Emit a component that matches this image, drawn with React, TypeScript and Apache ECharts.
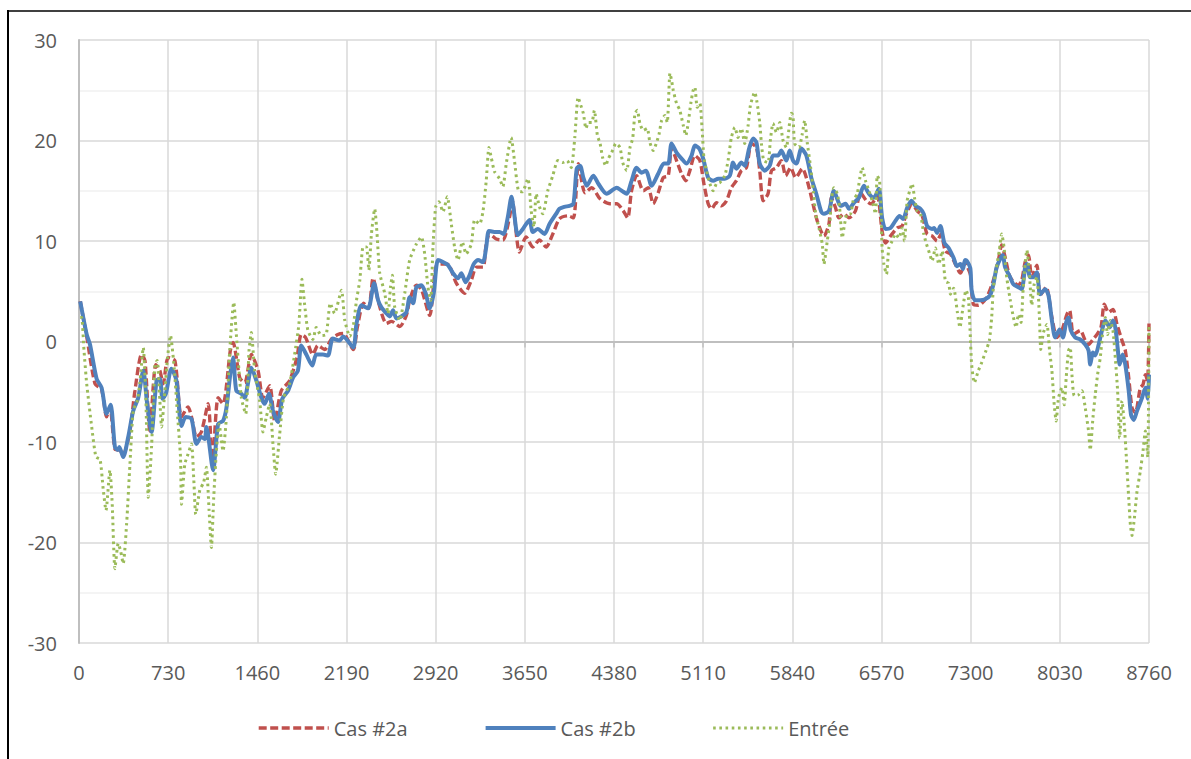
import React, { useEffect, useRef } from "react";
import * as echarts from "echarts";

const seriesNames = ["Cas #2a", "Cas #2b", "Entrée"];

const cas2a: [number, number][] = [
  [10, 4.0], [63, 0.5], [131, -4.2], [185, -4.8], [226, -7.5], [253, -6.5], [294, -10.7], [330, -10.8],
  [362, -11.2], [417, -8.9], [458, -4.9], [512, -1.3], [540, -1.9], [580, -8.9], [629, -2.3], [662, -2.9],
  [689, -4.2], [730, -1.6], [785, -1.9], [839, -7.5], [893, -6.5], [921, -7.5], [962, -9.5], [1002, -9.0],
  [1057, -6.2], [1092, -12.2], [1139, -5.6], [1179, -6.2], [1239, -0.9], [1261, -0.1], [1316, -3.6],
  [1357, -4.1], [1411, -1.3], [1466, -2.9], [1506, -5.6], [1561, -4.4], [1602, -7.9], [1656, -4.9],
  [1724, -3.9], [1784, -1.6], [1820, 0.7], [1855, 0.4], [1915, -1.3], [1956, -0.4], [2011, -0.8],
  [2065, 0.2], [2119, 0.7], [2163, 0.8], [2245, -0.8], [2280, 1.5], [2330, 3.8], [2370, 3.3], [2408, 6.3],
  [2450, 4.0], [2517, 1.8], [2560, 2.0], [2626, 1.5], [2680, 2.6], [2707, 4.1], [2762, 5.6], [2803, 5.2],
  [2871, 2.6], [2934, 7.7], [3015, 7.7], [3089, 5.8], [3157, 4.8], [3212, 6.1], [3253, 7.4], [3307, 7.4],
  [3334, 9.7], [3361, 10.7], [3416, 10.2], [3470, 10.1], [3525, 12.4], [3547, 14.0], [3606, 8.9],
  [3661, 10.4], [3715, 9.4], [3770, 10.1], [3824, 9.4], [3879, 10.7], [3933, 12.2], [4001, 12.5],
  [4048, 12.3], [4089, 17.7], [4143, 14.8], [4198, 15.3], [4266, 14.2], [4347, 13.7], [4402, 13.7],
  [4456, 13.0], [4492, 12.3], [4524, 15.0], [4565, 16.5], [4620, 15.0], [4660, 15.3], [4701, 13.7],
  [4742, 14.8], [4783, 16.3], [4824, 16.5], [4851, 19.3], [4892, 18.0], [4933, 16.7], [4968, 16.0],
  [5001, 17.0], [5042, 18.5], [5083, 18.0], [5116, 15.7], [5151, 13.7], [5178, 13.2], [5219, 13.8],
  [5260, 13.5], [5301, 14.0], [5341, 15.3], [5382, 16.0], [5423, 17.0], [5464, 17.3], [5505, 19.7],
  [5546, 19.3], [5573, 17.0], [5601, 14.0], [5641, 14.7], [5669, 17.0], [5710, 17.3], [5750, 18.0],
  [5786, 16.5], [5826, 17.3], [5867, 16.3], [5922, 17.2], [5962, 16.0], [6003, 14.0], [6044, 12.0],
  [6099, 10.5], [6140, 11.7], [6159, 14.3], [6194, 13.3], [6221, 12.3], [6262, 12.7], [6303, 12.3],
  [6357, 13.0], [6398, 14.8], [6447, 14.0], [6485, 13.7], [6535, 14.5], [6575, 11.0], [6603, 9.8],
  [6644, 10.5], [6698, 11.3], [6739, 11.5], [6774, 12.7], [6821, 13.7], [6862, 13.0], [6903, 12.5],
  [6943, 10.7], [6984, 10.5], [7025, 10.0], [7057, 10.7], [7093, 9.0], [7134, 8.7], [7175, 7.7],
  [7216, 6.8], [7254, 7.9], [7270, 7.5], [7297, 6.7], [7322, 3.7], [7363, 3.6], [7431, 4.4], [7486, 6.1],
  [7527, 8.1], [7554, 9.6], [7582, 8.4], [7623, 6.4], [7691, 5.6], [7718, 6.1], [7746, 7.9], [7773, 8.6],
  [7800, 6.4], [7842, 7.6], [7869, 4.6], [7918, 5.4], [7965, 2.4], [8006, 0.4], [8047, 1.1], [8088, 2.7],
  [8110, 3.1], [8142, 0.7], [8197, 1.1], [8238, 0.1], [8265, -0.3], [8301, 0.2], [8334, 0.7], [8367, 1.4],
  [8394, 3.7], [8429, 2.9], [8465, 3.2], [8498, 1.7], [8539, 0.1], [8566, -0.9], [8594, -3.6], [8621, -6.6],
  [8648, -7.1], [8689, -4.6], [8711, -4.3], [8730, -3.3], [8748, -3.9], [8760, 1.8],
];

const cas2b: [number, number][] = [
  [10, 4.0], [63, 0.7], [90, -0.3], [144, -3.7], [185, -4.6], [226, -7.2], [259, -6.3], [294, -10.5],
  [318, -10.8], [330, -10.5], [362, -11.5], [403, -9.5], [444, -6.9], [485, -5.6], [526, -2.9], [558, -6.2],
  [594, -9.0], [635, -3.9], [662, -3.7], [684, -5.7], [711, -5.2], [757, -2.7], [798, -3.9], [839, -8.4],
  [874, -7.5], [921, -7.7], [962, -10.2], [1002, -9.5], [1030, -9.7], [1043, -8.5], [1098, -12.8],
  [1139, -8.2], [1179, -7.9], [1207, -6.6], [1239, -3.2], [1261, -1.6], [1288, -4.9], [1329, -5.2],
  [1357, -5.6], [1384, -4.1], [1411, -2.6], [1452, -3.9], [1493, -5.6], [1520, -6.2], [1555, -5.2],
  [1588, -6.9], [1629, -8.0], [1664, -5.7], [1711, -4.9], [1752, -3.6], [1792, -2.9], [1820, -0.4],
  [1861, -1.3], [1910, -2.4], [1942, -1.3], [1997, -1.3], [2038, -1.4], [2078, 0.3], [2133, 0.1],
  [2163, 0.5], [2245, -0.6], [2272, 1.8], [2313, 3.6], [2367, 3.3], [2416, 5.8], [2449, 4.1], [2476, 3.4],
  [2517, 2.8], [2544, 2.5], [2571, 3.1], [2599, 2.3], [2639, 2.5], [2680, 2.9], [2707, 4.4], [2735, 3.8],
  [2762, 5.4], [2803, 5.6], [2838, 4.8], [2871, 3.3], [2904, 4.8], [2939, 8.1], [2980, 7.9], [3021, 7.6],
  [3062, 6.8], [3103, 6.3], [3130, 6.8], [3165, 5.9], [3198, 6.6], [3231, 7.7], [3266, 8.1], [3307, 7.9],
  [3334, 9.4], [3356, 11.0], [3402, 10.9], [3443, 10.9], [3476, 10.7], [3511, 12.4], [3541, 14.4],
  [3560, 13.0], [3593, 10.6], [3634, 11.2], [3688, 12.1], [3715, 10.9], [3756, 11.2], [3811, 10.7],
  [3852, 11.7], [3906, 12.7], [3933, 13.2], [3974, 13.4], [4015, 13.5], [4048, 13.7], [4075, 17.2],
  [4102, 17.5], [4129, 16.3], [4157, 15.5], [4211, 16.5], [4252, 15.7], [4320, 14.7], [4402, 15.3],
  [4443, 15.0], [4484, 14.7], [4524, 16.0], [4565, 17.3], [4606, 16.8], [4641, 17.0], [4688, 15.5],
  [4742, 16.7], [4789, 17.7], [4824, 17.7], [4851, 19.7], [4892, 18.8], [4933, 18.2], [4974, 17.7],
  [5015, 18.5], [5042, 19.5], [5077, 19.2], [5110, 18.2], [5151, 16.3], [5192, 16.0], [5233, 16.2],
  [5287, 16.2], [5328, 16.5], [5355, 17.8], [5382, 17.2], [5423, 17.8], [5450, 17.5], [5486, 19.2],
  [5519, 20.2], [5546, 19.8], [5573, 17.7], [5614, 17.0], [5655, 17.5], [5682, 18.5], [5723, 18.5],
  [5750, 19.0], [5791, 18.0], [5818, 19.0], [5846, 18.0], [5873, 17.7], [5914, 19.2], [5955, 18.5],
  [5995, 16.3], [6036, 14.7], [6077, 12.9], [6099, 12.7], [6140, 13.0], [6180, 15.0], [6213, 14.0],
  [6235, 13.5], [6276, 13.7], [6303, 13.2], [6344, 13.8], [6385, 14.3], [6426, 15.5], [6467, 14.7],
  [6507, 14.3], [6548, 15.2], [6575, 12.3], [6603, 11.2], [6644, 11.3], [6684, 12.0], [6717, 12.5],
  [6747, 12.2], [6780, 13.3], [6815, 14.0], [6848, 13.5], [6889, 13.2], [6916, 12.7], [6943, 11.5],
  [6984, 11.2], [7000, 11.3], [7025, 10.8], [7052, 11.5], [7085, 9.8], [7120, 9.3], [7161, 8.3],
  [7188, 7.5], [7216, 7.7], [7237, 7.2], [7254, 8.1], [7270, 8.0], [7297, 7.3], [7308, 5.1], [7336, 4.1],
  [7377, 4.1], [7418, 4.2], [7459, 4.6], [7486, 5.7], [7513, 7.4], [7541, 8.2], [7563, 8.6], [7582, 7.4],
  [7623, 6.4], [7650, 5.7], [7691, 5.4], [7718, 5.2], [7746, 7.4], [7760, 7.7], [7787, 6.4], [7815, 6.4],
  [7842, 6.9], [7869, 4.7], [7910, 5.2], [7937, 4.6], [7965, 2.1], [7992, 0.4], [8028, 1.2], [8055, 0.4],
  [8082, 1.9], [8101, 2.4], [8120, 1.1], [8156, 0.4], [8197, 0.2], [8238, -0.3], [8265, -0.9], [8279, -2.3],
  [8301, -1.1], [8320, -1.4], [8348, -0.3], [8375, 1.1], [8402, 2.1], [8438, 1.4], [8465, 2.1], [8484, 1.4],
  [8503, -0.6], [8520, -2.3], [8544, -1.3], [8566, -2.3], [8594, -4.9], [8613, -7.3], [8635, -7.8],
  [8662, -6.9], [8703, -5.6], [8730, -4.6], [8750, -5.7], [8760, -3.3],
];

const entree: [number, number][] = [
  [10, 2.4], [22, 2.4], [41, -0.9], [63, -4.2], [104, -8.5], [139, -11.5], [172, -11.7], [199, -14.8],
  [221, -16.8], [253, -12.8], [272, -16.2], [294, -22.6], [321, -20.1], [340, -20.8], [362, -22.1],
  [390, -18.1], [417, -12.2], [444, -6.9], [477, -5.9], [498, -4.2], [526, -0.6], [548, -5.9], [567, -15.5],
  [594, -10.5], [621, -2.3], [640, -1.9], [662, -5.9], [676, -8.5], [703, -4.9], [725, -1.6], [749, 0.6],
  [779, -2.6], [804, -6.9], [831, -11.5], [839, -16.2], [866, -12.2], [893, -11.2], [921, -10.2],
  [940, -13.8], [956, -17.2], [989, -14.8], [1021, -14.0], [1043, -12.5], [1065, -16.8], [1084, -20.5],
  [1103, -15.5], [1125, -10.9], [1147, -8.2], [1179, -10.9], [1207, -7.5], [1234, -0.9], [1267, 3.9],
  [1288, 0.7], [1329, -5.6], [1365, -7.2], [1392, -0.9], [1411, 0.9], [1438, -2.9], [1479, -5.9],
  [1506, -9.0], [1534, -7.5], [1561, -6.2], [1588, -10.2], [1610, -13.2], [1643, -9.2], [1675, -5.6],
  [1724, -4.2], [1765, -1.3], [1800, 1.7], [1825, 6.2], [1847, 3.7], [1874, 1.1], [1915, 0.2], [1942, 1.4],
  [1983, 0.6], [2024, 0.7], [2057, 3.8], [2092, 2.8], [2149, 5.1], [2176, 2.1], [2217, 0.5], [2245, 1.5],
  [2272, 4.1], [2299, 6.1], [2326, 9.4], [2353, 9.4], [2373, 7.1], [2394, 10.7], [2421, 13.2], [2440, 10.7],
  [2462, 6.8], [2503, 4.8], [2530, 2.8], [2550, 5.4], [2566, 6.6], [2585, 3.4], [2626, 2.1], [2667, 4.8],
  [2707, 8.1], [2762, 9.7], [2803, 10.4], [2830, 8.7], [2857, 5.4], [2879, 4.1], [2898, 9.4], [2920, 13.4],
  [2947, 13.9], [2980, 12.9], [3015, 14.4], [3048, 11.7], [3075, 9.4], [3103, 8.1], [3138, 9.9],
  [3170, 8.7], [3212, 9.7], [3239, 12.1], [3280, 11.7], [3307, 12.9], [3334, 16.0], [3356, 19.3],
  [3375, 18.3], [3402, 16.9], [3443, 16.2], [3470, 15.4], [3498, 17.7], [3538, 20.3], [3565, 18.0],
  [3597, 15.0], [3630, 14.9], [3675, 16.2], [3702, 13.0], [3724, 11.4], [3743, 14.7], [3770, 13.4],
  [3797, 12.7], [3838, 15.0], [3879, 16.5], [3920, 18.0], [3960, 17.8], [3996, 18.0], [4030, 17.3],
  [4059, 20.3], [4086, 24.3], [4108, 23.5], [4129, 22.7], [4151, 21.2], [4170, 21.8], [4198, 21.8],
  [4219, 23.0], [4244, 20.5], [4266, 19.7], [4287, 18.3], [4312, 17.5], [4334, 18.2], [4361, 18.8],
  [4396, 19.7], [4429, 19.3], [4451, 17.8], [4484, 17.0], [4511, 19.3], [4533, 20.2], [4552, 22.7],
  [4571, 23.0], [4592, 21.7], [4620, 21.0], [4652, 21.2], [4674, 19.8], [4701, 19.0], [4729, 19.8],
  [4750, 20.7], [4770, 22.0], [4797, 22.5], [4816, 21.8], [4838, 26.7], [4851, 26.0], [4865, 25.0],
  [4892, 23.7], [4919, 23.0], [4947, 21.5], [4968, 20.5], [4987, 21.7], [5009, 23.7], [5028, 25.0],
  [5042, 25.3], [5061, 23.3], [5083, 23.7], [5102, 21.0], [5116, 18.3], [5137, 17.0], [5165, 15.7],
  [5192, 15.0], [5219, 15.7], [5246, 15.8], [5287, 16.5], [5314, 18.0], [5341, 20.3], [5369, 21.3],
  [5396, 20.3], [5423, 21.2], [5450, 19.7], [5478, 21.5], [5497, 23.5], [5532, 24.8], [5551, 23.8],
  [5573, 21.8], [5587, 19.7], [5606, 18.0], [5641, 17.8], [5660, 20.0], [5682, 21.7], [5710, 20.8],
  [5737, 21.8], [5764, 20.0], [5791, 19.3], [5818, 21.8], [5832, 22.7], [5845, 22.5], [5859, 19.7],
  [5894, 19.3], [5922, 20.7], [5941, 22.0], [5963, 19.7], [5990, 17.3], [6012, 15.0], [6031, 12.7],
  [6058, 11.3], [6085, 9.7], [6099, 7.7], [6126, 10.0], [6148, 12.0], [6159, 14.0], [6180, 15.3],
  [6208, 14.7], [6227, 13.3], [6249, 10.3], [6268, 11.7], [6289, 12.7], [6316, 12.7], [6338, 14.0],
  [6371, 14.7], [6393, 16.3], [6412, 17.3], [6439, 16.0], [6467, 15.0], [6494, 14.0], [6521, 12.7],
  [6535, 16.5], [6554, 16.0], [6567, 12.7], [6575, 9.3], [6589, 7.7], [6611, 6.7], [6630, 9.3],
  [6657, 10.0], [6684, 10.7], [6712, 10.3], [6739, 11.3], [6758, 10.0], [6780, 14.0], [6801, 15.0],
  [6821, 15.7], [6840, 14.3], [6862, 13.0], [6889, 12.7], [6916, 10.7], [6938, 9.7], [6965, 8.7],
  [6984, 8.0], [7011, 9.3], [7039, 7.7], [7066, 9.0], [7093, 6.0], [7120, 5.8], [7134, 4.7], [7161, 5.3],
  [7190, 3.0], [7212, 1.4], [7240, 3.7], [7262, 5.1], [7281, 4.4], [7295, 1.1], [7308, -2.3], [7330, -4.1],
  [7363, -2.9], [7390, -2.1], [7426, -0.9], [7453, 0.1], [7472, 2.4], [7486, 5.4], [7508, 7.1],
  [7535, 9.1], [7554, 10.7], [7573, 9.4], [7595, 6.4], [7623, 4.2], [7650, 2.4], [7672, 1.4], [7691, 2.7],
  [7713, 1.9], [7727, 4.7], [7746, 7.7], [7760, 9.1], [7779, 7.1], [7800, 3.6], [7820, 5.7], [7842, 6.4],
  [7863, 2.4], [7874, -0.8], [7896, 0.9], [7924, 1.7], [7946, -0.9], [7965, -2.9], [7984, -6.3],
  [8000, -7.9], [8019, -5.6], [8047, -4.6], [8066, -6.3], [8082, -3.6], [8101, -0.9], [8115, -0.6],
  [8129, -3.3], [8148, -5.4], [8183, -5.3], [8211, -4.9], [8238, -6.6], [8265, -8.9], [8279, -10.8],
  [8301, -7.6], [8320, -5.3], [8339, -3.3], [8361, -1.6], [8383, 1.1], [8402, 2.4], [8421, 0.7],
  [8443, 2.1], [8465, 1.1], [8484, -1.6], [8503, -4.9], [8520, -9.6], [8539, -5.9], [8558, -8.3],
  [8575, -11.6], [8594, -15.6], [8608, -18.3], [8621, -19.3], [8640, -17.6], [8662, -14.9], [8689, -12.9],
  [8711, -10.9], [8730, -8.9], [8750, -11.5], [8760, 1.7],
];

const X_MIN = 0;
const X_MAX = 8760;
const X_STEP = 730;
const Y_MIN = -30;
const Y_MAX = 30;
const Y_STEP = 10;

const FONT = "'Open Sans', 'DejaVu Sans', sans-serif";
const TEXT = "#595959";
const RED = "#C0504D";
const BLUE = "#4F81BD";
const GREEN = "#9BBB59";

const redStyle = { color: RED, width: 3.4, type: [8, 3.5] };
const blueStyle = { color: BLUE, width: 4 };
const greenStyle = { color: GREEN, width: 3, type: [2.6, 3.6] };

export default function App() {
  const ref = useRef<HTMLDivElement>(null);

  useEffect(() => {
    if (!ref.current) return;
    const chart = echarts.init(ref.current, undefined, { renderer: "svg" });
    chart.setOption({
      animation: false,
      backgroundColor: "#ffffff",
      textStyle: { fontFamily: FONT },
      grid: { left: 79, right: 42, top: 40, bottom: 116, containLabel: false },
      legend: {
        data: [
          { name: seriesNames[0], lineStyle: redStyle },
          { name: seriesNames[1], lineStyle: blueStyle },
          { name: seriesNames[2], lineStyle: greenStyle },
        ],
        left: 252,
        top: 713,
        itemWidth: 70,
        itemHeight: 14,
        itemGap: 76,
        itemStyle: { opacity: 0 },
        textStyle: { fontFamily: FONT, fontSize: 20, color: TEXT },
      },
      xAxis: {
        type: "value",
        min: X_MIN,
        max: X_MAX,
        interval: X_STEP,
        axisLine: { show: true, lineStyle: { color: "#BFBFBF", width: 2 } },
        axisTick: { show: true, length: 6, lineStyle: { color: "#BFBFBF", width: 1.5 } },
        axisLabel: {
          fontFamily: FONT,
          fontSize: 20,
          color: TEXT,
          margin: 19,
          formatter: (v: number) => String(v),
        },
        splitLine: { show: true, lineStyle: { color: "#D9D9D9", width: 1.5 } },
      },
      yAxis: {
        type: "value",
        min: Y_MIN,
        max: Y_MAX,
        interval: Y_STEP,
        axisLine: { show: true, onZero: false, lineStyle: { color: "#BFBFBF", width: 2 } },
        axisTick: { show: false },
        axisLabel: { fontFamily: FONT, fontSize: 20, color: TEXT, margin: 22 },
        splitLine: { show: true, lineStyle: { color: "#D9D9D9", width: 1.5 } },
        minorTick: { show: false, splitNumber: 2 },
        minorSplitLine: { show: true, lineStyle: { color: "#F0F0F0", width: 1.5 } },
      },
      series: [
        {
          name: seriesNames[0],
          type: "line",
          data: cas2a,
          symbol: "none",
          smooth: 0.25,
          color: RED,
          lineStyle: redStyle,
        },
        {
          name: seriesNames[1],
          type: "line",
          data: cas2b,
          symbol: "none",
          smooth: 0.25,
          color: BLUE,
          lineStyle: blueStyle,
        },
        {
          name: seriesNames[2],
          type: "line",
          data: entree,
          symbol: "none",
          smooth: 0.2,
          color: GREEN,
          lineStyle: greenStyle,
        },
      ],
      graphic: [
        { type: "line", shape: { x1: 8, y1: 10, x2: 8, y2: 759 }, style: { stroke: "#000", lineWidth: 2 } },
        { type: "line", shape: { x1: 7, y1: 11, x2: 1191, y2: 11 }, style: { stroke: "#000", lineWidth: 1.5 } },
      ],
    });
    return () => chart.dispose();
  }, []);

  return (
    <div
      ref={ref}
      style={{ position: "absolute", left: 0, top: 0, width: 1191, height: 759, background: "#fff" }}
    />
  );
}
